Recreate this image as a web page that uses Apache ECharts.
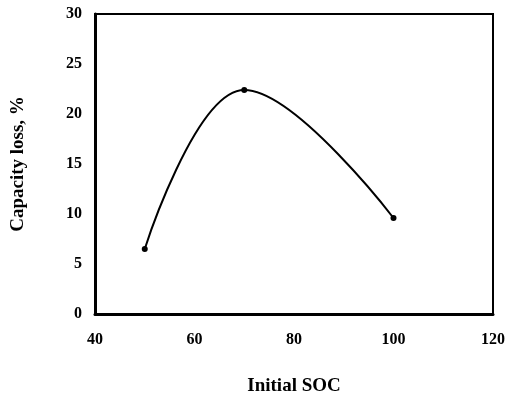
<!DOCTYPE html>
<html>
<head>
<meta charset="utf-8">
<script src="https://cdn.jsdelivr.net/npm/echarts@6/dist/echarts.min.js"></script>
<style>
  html, body { margin: 0; padding: 0; background: #fff; }
  #chart { width: 510px; height: 399px; }
</style>
</head>
<body>
<div id="chart"></div>
<script>
// Capacity loss measured at each initial state of charge
const initialSoc = [50, 70, 100];
const capacityLoss = [6.5, 22.4, 9.6];

const xTicks = { min: 40, max: 120, interval: 20 };
const yTicks = { min: 0, max: 30, interval: 5 };

const font = '"Liberation Serif", "Times New Roman", serif';

const chart = echarts.init(document.getElementById('chart'));
chart.setOption({
  animation: false,
  backgroundColor: '#fff',
  grid: {
    left: 95, right: 17, top: 14, bottom: 85,
    outerBoundsMode: 'none',
    show: true, borderColor: '#000', borderWidth: 2, backgroundColor: 'transparent'
  },
  xAxis: {
    type: 'value',
    min: xTicks.min, max: xTicks.max, interval: xTicks.interval,
    name: 'Initial SOC',
    nameLocation: 'middle',
    nameGap: 63,
    nameTextStyle: { fontFamily: font, fontWeight: 'bold', fontSize: 19, color: '#000' },
    axisLine: { lineStyle: { color: '#000', width: 3 } },
    axisTick: { show: false },
    splitLine: { show: false },
    axisLabel: { fontFamily: font, fontWeight: 'bold', fontSize: 16, color: '#000', margin: 18 }
  },
  yAxis: {
    type: 'value',
    min: yTicks.min, max: yTicks.max, interval: yTicks.interval,
    name: 'Capacity loss, %',
    nameLocation: 'middle',
    nameGap: 67,
    nameTextStyle: { fontFamily: font, fontWeight: 'bold', fontSize: 19, color: '#000' },
    axisLine: { lineStyle: { color: '#000', width: 3 } },
    axisTick: { show: false },
    splitLine: { show: false },
    axisLabel: { fontFamily: font, fontWeight: 'bold', fontSize: 16, color: '#000', margin: 13 }
  },
  series: [{
    type: 'line',
    data: initialSoc.map((x, i) => [x, capacityLoss[i]]),
    smooth: 0.4,
    symbol: 'circle',
    symbolSize: 6,
    itemStyle: { color: '#000' },
    lineStyle: { color: '#000', width: 2 }
  }]
});
</script>
</body>
</html>
